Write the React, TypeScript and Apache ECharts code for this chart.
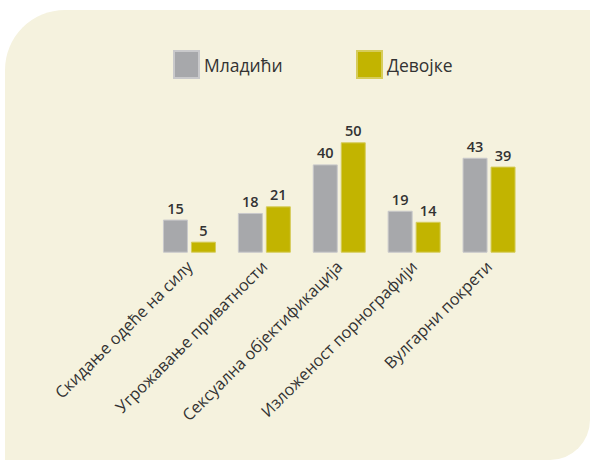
import React, { useEffect, useRef } from "react";
import * as echarts from "echarts";

const categories = [
  "Скидање одеће на силу",
  "Угрожавање приватности",
  "Сексуална објектификација",
  "Изложеност порнографији",
  "Вулгарни покрети",
];
const youngMen = [15, 18, 40, 19, 43];
const girls = [5, 21, 50, 14, 39];
const seriesNames = ["Младићи", "Девојке"];

const GRAY = "#a7a8ab";
const YELLOW = "#c2b400";
const FONT = "'Open Sans', 'Noto Sans', sans-serif";

export default function App() {
  const ref = useRef<HTMLDivElement>(null);
  useEffect(() => {
    if (!ref.current) return;
    const chart = echarts.init(ref.current, null, { renderer: "svg" });
    const label = {
      show: true,
      position: "top",
      distance: 4,
      color: "#333",
      fontSize: 14.5,
      fontWeight: 600,
      fontFamily: FONT,
    };
    chart.setOption({
      animation: false,
      textStyle: { fontFamily: FONT },
      graphic: [
        {
          type: "rect",
          z: -10,
          silent: true,
          shape: { x: 5, y: 10, width: 585, height: 450, r: [60, 0, 40, 0] },
          style: { fill: "#f5f2de" },
        },
      ],
      legend: [
        {
          left: 168,
          top: 45,
          itemWidth: 25,
          itemHeight: 27,
          itemGap: 10,
          data: [seriesNames[0]],
          icon: "rect",
          textStyle: { fontSize: 17.5, color: "#333", fontFamily: FONT },
        },
        {
          left: 351,
          top: 45,
          itemWidth: 25,
          itemHeight: 27,
          data: [seriesNames[1]],
          icon: "rect",
          textStyle: { fontSize: 17.5, color: "#333", fontFamily: FONT },
        },
      ],
      grid: { left: 152, width: 374.5, top: 142.3, height: 110.4 },
      xAxis: {
        type: "category",
        data: categories,
        axisLine: { show: false },
        axisTick: { show: false },
        axisLabel: {
          rotate: 45,
          margin: 11,
          interval: 0,
          color: "#333",
          fontSize: 16.3,
          fontFamily: FONT,
        },
      },
      yAxis: {
        type: "value",
        min: 0,
        max: 50,
        show: false,
        splitLine: { show: false },
      },
      series: [
        {
          name: seriesNames[0],
          type: "bar",
          data: youngMen,
          barWidth: 25,
          barGap: "12%",
          itemStyle: { color: GRAY, borderColor: "#c9c9cb", borderWidth: 1 },
          label,
        },
        {
          name: seriesNames[1],
          type: "bar",
          data: girls,
          barWidth: 25,
          itemStyle: { color: YELLOW, borderColor: "#d6cc5a", borderWidth: 1 },
          label,
        },
      ],
    });
    return () => chart.dispose();
  }, []);
  return (
    <div
      ref={ref}
      style={{ position: "fixed", left: 0, top: 0, width: 590, height: 462, background: "#fff" }}
    />
  );
}
